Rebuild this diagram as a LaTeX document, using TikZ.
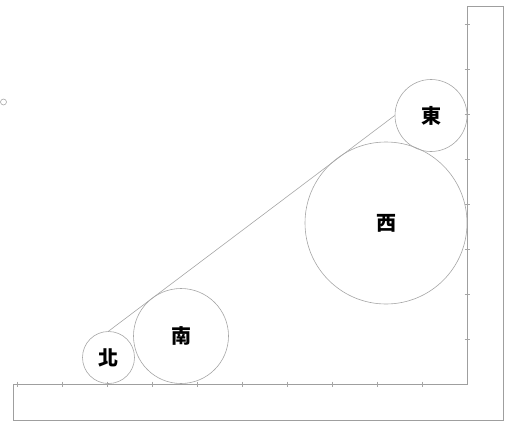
\documentclass[tikz,border=0pt]{standalone}
\usepackage{fontspec}
\newfontfamily\cjk{Noto Sans CJK TC}
\begin{document}
\begin{tikzpicture}[x=1pt,y=-1pt,
  frame/.style={draw=gray!75, line width=0.8pt},
  ring/.style={circle, draw=gray!70, line width=0.6pt, inner sep=0pt, font=\cjk\bfseries\fontsize{20}{20}\selectfont},
  tangent/.style={draw=gray!70, line width=0.6pt},
  tick/.style={draw=gray!70, line width=0.6pt}]
\useasboundingbox (0,0) rectangle (510,425);
% L-shaped frame
\coordinate (c0) at (13,384);
\coordinate (c1) at (467,384);
\coordinate (c2) at (467,6);
\coordinate (c3) at (503,6);
\coordinate (c4) at (503,420);
\coordinate (c5) at (13,420);
\draw[frame] (c0) -- (c1) -- (c2) -- (c3) -- (c4) -- (c5) -- cycle;
% ticks
\foreach \k in {1,...,10} \draw[tick] (467-45*\k,381.5) -- (467-45*\k,386.5);
\foreach \k in {1,...,8} \draw[tick] (464.5,384-45*\k) -- (469.5,384-45*\k);
% circles
\node[ring, minimum size=52pt] (bei) at (108.5,357.5) {北};
\node[ring, minimum size=95pt] (nan) at (181,336) {南};
\node[ring, minimum size=162pt] (xi) at (386,223) {西};
\node[ring, minimum size=72pt] (dong) at (431,115.5) {東};
% tangent line
\draw[tangent] (bei.north) -- (dong.west);
% stray mark
\node[circle, draw=gray!70, line width=0.6pt, minimum size=6pt, inner sep=0pt] (dot) at (3.5,102) {};
\end{tikzpicture}
\end{document}
